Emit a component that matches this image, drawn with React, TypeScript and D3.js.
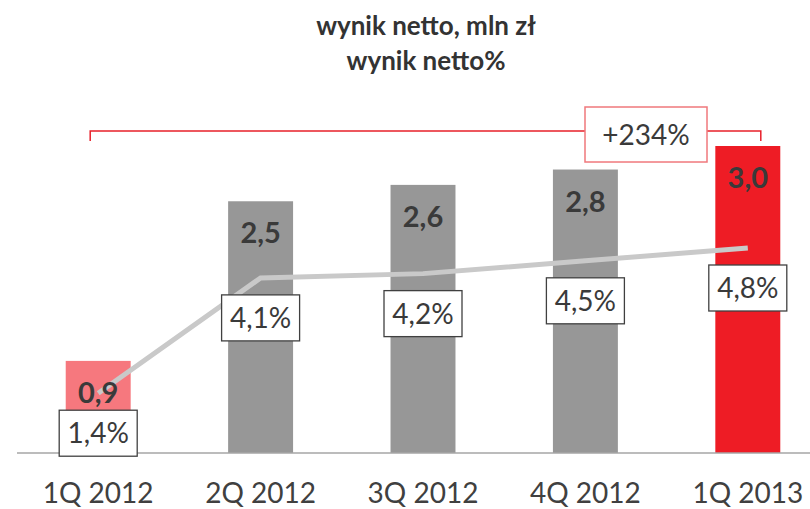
import React, { useEffect, useRef } from 'react';
import * as d3 from 'd3';

const quarters = ['1Q 2012', '2Q 2012', '3Q 2012', '4Q 2012', '1Q 2013'];
const netResult = [0.9, 2.46, 2.62, 2.77, 3.0];
const netMargin = [1.4, 4.1, 4.2, 4.5, 4.8];
const barColors = ['#f6787e', '#979797', '#979797', '#979797', '#ee1c25'];
const growthLabel = '+234%';

const fmt = (v: number) => v.toFixed(1).replace('.', ',');

const App = () => {
    const svgRef = useRef<SVGSVGElement>(null);

    useEffect(() => {
        const svg = d3.select(svgRef.current);
        svg.selectAll('*').remove();

        const font = 'Lato, "Open Sans", sans-serif';
        const baseY = 453;

        const x = d3.scaleBand()
            .domain(quarters)
            .range([17, 829])
            .paddingInner(0.6)
            .paddingOuter(0.3);

        const y = d3.scaleLinear().domain([0, 3.0]).range([baseY, 146]);
        const y2 = d3.scaleLinear().domain([0, 4.8]).range([baseY, 248]);

        const cx = (q: string) => x(q)! + x.bandwidth() / 2;

        // title
        svg.append('text')
            .attr('x', 426).attr('y', 35)
            .attr('text-anchor', 'middle')
            .attr('font-family', font).attr('font-weight', 700)
            .attr('font-size', 26).attr('fill', '#333')
            .text('wynik netto, mln zł');
        svg.append('text')
            .attr('x', 426).attr('y', 70)
            .attr('text-anchor', 'middle')
            .attr('font-family', font).attr('font-weight', 700)
            .attr('font-size', 26).attr('fill', '#333')
            .text('wynik netto%');

        // bars
        svg.selectAll('.bar')
            .data(netResult)
            .enter()
            .append('rect')
            .attr('x', (d, i) => x(quarters[i])!)
            .attr('y', d => y(d))
            .attr('width', x.bandwidth())
            .attr('height', d => baseY - y(d))
            .attr('fill', (d, i) => barColors[i]);

        // axis line
        svg.append('line')
            .attr('x1', 17).attr('x2', 810)
            .attr('y1', baseY).attr('y2', baseY)
            .attr('stroke', '#a6a6a6').attr('stroke-width', 1.5);

        // margin line
        const line = d3.line<number>()
            .x((d, i) => cx(quarters[i]))
            .y(d => y2(d));

        svg.append('path')
            .datum(netMargin)
            .attr('fill', 'none')
            .attr('stroke', '#c9c9c9')
            .attr('stroke-width', 5)
            .attr('d', line);

        // bar value labels
        svg.selectAll('.val')
            .data(netResult)
            .enter()
            .append('text')
            .attr('x', (d, i) => cx(quarters[i]))
            .attr('y', d => y(d) + 42)
            .attr('text-anchor', 'middle')
            .attr('font-family', font).attr('font-weight', 700)
            .attr('font-size', 29).attr('fill', '#3a3a3a')
            .text(d => fmt(d));

        // margin label boxes
        const boxW = 78, boxH = 46;
        const boxes = svg.selectAll('.pct')
            .data(netMargin)
            .enter()
            .append('g')
            .attr('transform', (d, i) => `translate(${cx(quarters[i])},${y2(d) + 40})`);
        boxes.append('rect')
            .attr('x', -boxW / 2).attr('y', -boxH / 2)
            .attr('width', boxW).attr('height', boxH)
            .attr('fill', '#fff')
            .attr('stroke', '#404040').attr('stroke-width', 1.3);
        boxes.append('text')
            .attr('y', 10)
            .attr('text-anchor', 'middle')
            .attr('font-family', font)
            .attr('font-size', 28).attr('fill', '#3a3a3a')
            .text(d => fmt(d) + '%');

        // category labels
        svg.selectAll('.cat')
            .data(quarters)
            .enter()
            .append('text')
            .attr('x', d => cx(d))
            .attr('y', 503)
            .attr('text-anchor', 'middle')
            .attr('font-family', font)
            .attr('font-size', 28).attr('fill', '#404040')
            .text(d => d);

        // growth bracket
        const bx1 = cx(quarters[0]) - 8;
        const bx2 = cx(quarters[4]) + 13;
        const by = 131;
        const gbx = 585, gbw = 122;
        svg.append('path')
            .attr('d', `M${bx1},${by + 10}V${by}H${gbx}M${gbx + gbw},${by}H${bx2}V${by + 10}`)
            .attr('fill', 'none')
            .attr('stroke', '#e8202a').attr('stroke-width', 1.5);
        svg.append('rect')
            .attr('x', gbx).attr('y', 107)
            .attr('width', gbw).attr('height', 55)
            .attr('fill', '#fff')
            .attr('stroke', '#f0787c').attr('stroke-width', 1.5);
        svg.append('text')
            .attr('x', gbx + gbw / 2).attr('y', 145)
            .attr('text-anchor', 'middle')
            .attr('font-family', font)
            .attr('font-size', 28).attr('fill', '#3a3a3a')
            .text(growthLabel);
    }, []);

    return (
        <svg
            ref={svgRef}
            width={810}
            height={509}
            style={{ position: 'absolute', left: 0, top: 0, background: '#fff' }}
        />
    );
};

export default App;
